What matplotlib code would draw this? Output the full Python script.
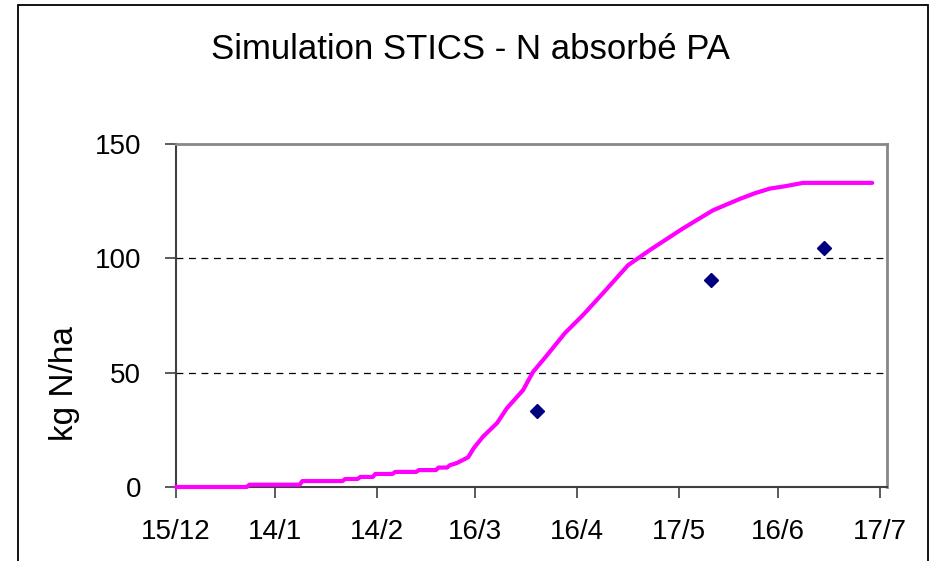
import numpy as np
import matplotlib
matplotlib.use('Agg')
import matplotlib.pyplot as plt
from matplotlib.patches import Rectangle

# simulated N uptake (days after 15/12, kg N/ha)
sim_days = [0, 21.5, 22.3, 37.6, 38.4, 50.6, 51.4, 55.2, 56, 59.8, 60.6, 65.8, 66.6,
            73, 73.8, 79, 79.8, 82.4, 83.2, 85.4, 88.8, 90.5, 93.3, 97.6, 100.6,
            105.5, 108.5, 112.8, 118.2, 123.7, 129.8, 137.4, 144, 154, 163.2,
            171.4, 176, 180.5, 185, 190.6, 211.6]
sim_n = [0, 0, 1, 1, 2.6, 2.6, 3.5, 3.5, 4.4, 4.4, 5.7, 5.7, 6.6,
         6.6, 7.4, 7.4, 8.5, 8.5, 9.5, 10.5, 13, 17, 22, 28, 34.5,
         42.4, 50.3, 57.7, 67.3, 75.2, 84.8, 97, 103.6, 113, 121,
         126, 128.5, 130.5, 131.5, 133, 133]

# measured points
obs_days = [109.7, 162.6, 197]
obs_n = [33.2, 90.5, 104.5]

tick_days = [0, 30, 61, 91, 122, 153, 183, 214]
tick_labels = ['15/12', '14/1', '14/2', '16/3', '16/4', '17/5', '16/6', '17/7']

plt.rcParams['font.family'] = ['Liberation Sans', 'DejaVu Sans']

fig = plt.figure(figsize=(9.37, 5.61), dpi=100)
ax = fig.add_axes([176/937, 1 - 487/561, 711/937, 343/561])

ax.plot(sim_days, sim_n, color='#FF00FF', lw=3, solid_capstyle='round', zorder=3, clip_on=False)
ax.plot(obs_days, obs_n, 'D', color='#000080', ms=7.5, zorder=4)

ax.set_xlim(0, 216.1)
ax.set_ylim(0, 150)
ax.set_xticks(tick_days)
ax.set_xticklabels(tick_labels)
ax.set_yticks([0, 50, 100, 150])

for y in [50, 100]:
    ax.axhline(y, color='black', lw=0.9, dashes=(5.5, 4.5), zorder=1)

for s in ['left', 'bottom']:
    ax.spines[s].set_color('#404040')
    ax.spines[s].set_linewidth(1.5)
for s in ['top', 'right']:
    ax.spines[s].set_color('#888888')
    ax.spines[s].set_linewidth(2)

ax.tick_params(axis='y', direction='out', length=8, width=1.2, color='#404040', pad=17, labelsize=20)
ax.tick_params(axis='x', direction='out', length=8, width=1.2, color='#404040', pad=15, labelsize=20)

fig.text(470/937, 1 - 49/561, 'Simulation STICS - N absorbé PA', ha='center', va='center', fontsize=25)
fig.text(65/937, 1 - 384/561, 'kg N/ha', ha='center', va='center', rotation=90, fontsize=24)

# outer chart frame
fig.add_artist(Rectangle((18/937, -0.05), 910/937, 1 - 5/561 + 0.05, transform=fig.transFigure,
                         fill=False, ec='black', lw=1.3))

fig.savefig('out.png', dpi=100)
